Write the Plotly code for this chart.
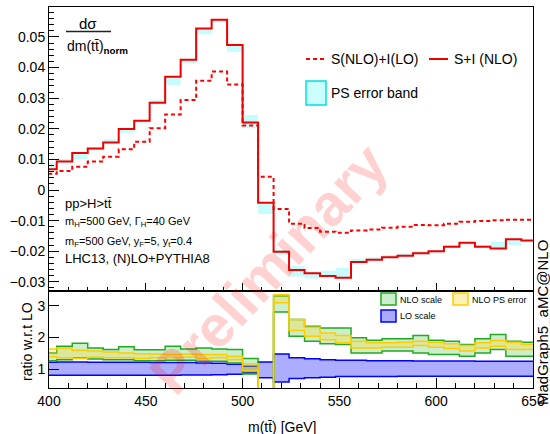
import plotly.graph_objects as go

# ---------------- data ----------------
mtt_centers = [400, 408, 416, 424, 432, 440, 448, 456, 464, 472, 480, 488, 496, 504, 512, 520,
               528, 536, 544, 552, 560, 568, 576, 584, 592, 600, 608, 616, 624, 632, 640, 648]
bin_width = 8

si_nlo = [0.0068, 0.0093, 0.0121, 0.0136, 0.0155, 0.0199, 0.0226, 0.0285, 0.0370, 0.0426, 0.0528,
          0.0556, 0.0474, 0.0221, -0.0042, -0.0202, -0.0261, -0.0272, -0.0281, -0.0287, -0.0235,
          -0.0228, -0.0220, -0.0215, -0.0207, -0.0200, -0.0185, -0.0172, -0.0185, -0.0191, -0.0161, -0.0165]

s_nlo_i_lo = [0.0053, 0.0062, 0.0076, 0.0093, 0.0109, 0.0133, 0.0158, 0.0202, 0.0247, 0.0294, 0.0357,
              0.0387, 0.0345, 0.0211, 0.0043, -0.0062, -0.0110, -0.0124, -0.0136, -0.0140, -0.0132,
              -0.0129, -0.0123, -0.0120, -0.0114, -0.0115, -0.0110, -0.0104, -0.0101, -0.0099, -0.0097, -0.0097]

ps_band_lo = [0.0068, 0.0093, 0.0100, 0.0130, 0.0155, 0.0187, 0.0218, 0.0285, 0.0343, 0.0414, 0.0509,
              0.0550, 0.0452, 0.0202, -0.0078, -0.0212, -0.0283, -0.0289, -0.0283, -0.0287, -0.0235,
              -0.0228, -0.0220, -0.0215, -0.0207, -0.0209, -0.0185, -0.0180, -0.0185, -0.0191, -0.0180, -0.0168]
ps_band_hi = [0.0088, 0.0101, 0.0121, 0.0136, 0.0166, 0.0199, 0.0226, 0.0294, 0.0370, 0.0426, 0.0528,
              0.0558, 0.0474, 0.0245, -0.0042, -0.0196, -0.0248, -0.0267, -0.0264, -0.0254, -0.0225,
              -0.0220, -0.0212, -0.0207, -0.0199, -0.0200, -0.0180, -0.0172, -0.0180, -0.0169, -0.0161, -0.0163]

# ratio panel (bin 512 lies far below the visible range)
nlo_scale_hi = [1.51, 1.72, 1.82, 1.67, 1.62, 1.71, 1.61, 1.61, 1.72, 1.64, 1.67, 1.64, 1.62, 1.34, -5.0,
                3.30, 2.56, 2.35, 2.30, 2.30, 1.99, 1.91, 1.96, 1.96, 2.06, 1.91, 1.88, 1.78, 1.96, 2.09, 1.88, 1.85]
nlo_scale_lo = [1.27, 1.30, 1.36, 1.32, 1.30, 1.30, 1.27, 1.27, 1.28, 1.28, 1.25, 1.25, 1.20, 0.85, -5.0,
                2.80, 2.04, 1.88, 1.80, 1.78, 1.51, 1.51, 1.57, 1.57, 1.51, 1.46, 1.46, 1.41, 1.51, 1.62, 1.41, 1.41]

nlo_ps_hi = [1.64, 1.67, 1.60, 1.57, 1.54, 1.51, 1.49, 1.48, 1.46, 1.48, 1.46, 1.46, 1.41, 1.17, -5.0,
             3.34, 2.56, 2.32, 2.14, 2.06, 1.88, 1.83, 1.83, 1.85, 1.88, 1.85, 1.80, 1.75, 1.83, 1.90, 1.85, 1.78]
nlo_ps_lo = [1.39, 1.36, 1.34, 1.38, 1.36, 1.36, 1.34, 1.36, 1.36, 1.38, 1.34, 1.36, 1.30, 0.96, -5.0,
             3.09, 2.22, 2.04, 1.93, 1.83, 1.67, 1.67, 1.69, 1.69, 1.75, 1.69, 1.65, 1.57, 1.67, 1.72, 1.62, 1.62]

lo_scale_hi = [1.22, 1.23, 1.23, 1.22, 1.22, 1.22, 1.22, 1.21, 1.21, 1.21, 1.20, 1.19, 1.16, 1.09, 1.23,
               1.48, 1.36, 1.33, 1.30, 1.28, 1.28, 1.27, 1.27, 1.27, 1.26, 1.26, 1.26, 1.26, 1.25, 1.25, 1.25, 1.25]
lo_scale_lo = [0.81, 0.81, 0.81, 0.81, 0.81, 0.81, 0.81, 0.81, 0.81, 0.82, 0.82, 0.83, 0.84, 0.88, 0.73,
               0.60, 0.71, 0.73, 0.75, 0.77, 0.77, 0.77, 0.77, 0.78, 0.78, 0.78, 0.78, 0.78, 0.78, 0.78, 0.78, 0.78]

# ---------------- helpers ----------------
FONT = "Liberation Sans, Arial, Helvetica, sans-serif"


def sx(c):
    return [v - bin_width / 2 for v in c] + [c[-1] + bin_width / 2]


def sy(v):
    return list(v) + [v[-1]]


L, R, T, B = 49, 533, 7, 388
W_PX, H_PX = R - L, B - T


def px(x):
    return (x - L) / W_PX


def py(y):
    return (B - y) / H_PX


split = (B - 291) / H_PX

fig = go.Figure()

# ---- top panel ----
fig.add_trace(go.Scatter(x=sx(mtt_centers), y=sy(ps_band_lo), mode="lines", line=dict(width=0, shape="hv"),
                         xaxis="x2", yaxis="y2", showlegend=False, hoverinfo="skip"))
fig.add_trace(go.Scatter(x=sx(mtt_centers), y=sy(ps_band_hi), mode="lines", line=dict(width=0, shape="hv"),
                         fill="tonexty", fillcolor="rgba(0,240,240,0.22)",
                         xaxis="x2", yaxis="y2", showlegend=False, hoverinfo="skip"))
fig.add_trace(go.Scatter(x=sx(mtt_centers), y=sy(s_nlo_i_lo), mode="lines",
                         line=dict(color="#ff0000", width=2, shape="hv", dash="4px,3px"),
                         xaxis="x2", yaxis="y2", showlegend=False))
fig.add_trace(go.Scatter(x=sx(mtt_centers), y=sy(si_nlo), mode="lines",
                         line=dict(color="#ee0000", width=2, shape="hv"),
                         xaxis="x2", yaxis="y2", showlegend=False))

# ---- ratio panel ----
def band(lo, hi, line_col, fill_col):
    fig.add_trace(go.Scatter(x=sx(mtt_centers), y=sy(lo), mode="lines",
                             line=dict(width=1.5, color=line_col, shape="hv"),
                             xaxis="x", yaxis="y", showlegend=False, hoverinfo="skip"))
    fig.add_trace(go.Scatter(x=sx(mtt_centers), y=sy(hi), mode="lines",
                             line=dict(width=1.5, color=line_col, shape="hv"),
                             fill="tonexty", fillcolor=fill_col,
                             xaxis="x", yaxis="y", showlegend=False, hoverinfo="skip"))


band(lo_scale_lo, lo_scale_hi, "#0000ff", "rgba(40,40,255,0.38)")
band(nlo_scale_lo, nlo_scale_hi, "#22aa22", "rgba(0,170,0,0.2)")
band(nlo_ps_lo, nlo_ps_hi, "#ffcc00", "rgba(255,215,40,0.3)")

axis_common = dict(showgrid=False, zeroline=False, showline=True, linecolor="black", linewidth=1,
                   mirror=True, ticks="inside", tickcolor="black",
                   tickfont=dict(family=FONT, size=14, color="black"))

fig.update_layout(
    width=550, height=434,
    margin=dict(l=L, r=550 - R, t=T, b=434 - B, pad=0),
    paper_bgcolor="white", plot_bgcolor="white",
    template="none",
    showlegend=False,
    xaxis=dict(axis_common, domain=[0, 1], range=[400, 650], anchor="y", tick0=400, dtick=50,
               ticklen=10, minor=dict(dtick=10, ticklen=5, ticks="inside", tickcolor="black")),
    xaxis2=dict(axis_common, domain=[0, 1], range=[400, 650], anchor="y2", matches="x", tick0=400, dtick=50,
                ticklen=8, showticklabels=False,
                minor=dict(dtick=10, ticklen=4, ticks="inside", tickcolor="black")),
    yaxis=dict(axis_common, domain=[0, split], range=[0.41, 3.46], anchor="x", tickvals=[1, 2, 3],
               ticklen=10),
    yaxis2=dict(axis_common, domain=[split, 1], range=[-0.033, 0.0598], anchor="x2", tick0=0, dtick=0.01,
                ticklen=10, minor=dict(dtick=0.002, ticklen=5, ticks="inside", tickcolor="black")),
)

shapes = []
annotations = []


def text(x, y, s, size, anchor="left", angle=0, color="black"):
    annotations.append(dict(xref="paper", yref="paper", x=px(x), y=py(y), text=s, showarrow=False,
                            xanchor=anchor, yanchor="middle", textangle=angle,
                            font=dict(family=FONT, size=size, color=color)))


# watermark (drawn first, so it sits under the other texts)
annotations.append(dict(xref="paper", yref="paper", x=px(268), y=py(268), text="<b>Preliminary</b>",
                        showarrow=False, xanchor="center", yanchor="middle", textangle=-47,
                        font=dict(family=FONT, size=58, color="rgba(255,0,0,0.18)")))

# y-title fraction
text(88, 23, "dσ", 15, anchor="center")
shapes.append(dict(type="line", xref="paper", yref="paper", x0=px(66), x1=px(111), y0=py(31.5), y1=py(31.5),
                   line=dict(color="#222", width=1.5)))
text(65, 47, "dm(tt\u0304)<sub><b>norm</b></sub>", 14)

# process info
text(63, 203, "pp>H>tt\u0304", 13)
text(63, 222, "m<sub>H</sub>=500 GeV, Γ<sub>H</sub>=40 GeV", 11)
text(63, 242, "m<sub>F</sub>=500 GeV, y<sub>F</sub>=5, y<sub>t</sub>=0.4", 11)
text(63, 258, "LHC13, (N)LO+PYTHIA8", 13)

# top legend
shapes.append(dict(type="line", xref="paper", yref="paper", x0=px(306), x1=px(324), y0=py(59), y1=py(59),
                   line=dict(color="#ff0000", width=2, dash="4px,3px")))
text(329, 59, "S(NLO)+I(LO)", 14)
shapes.append(dict(type="line", xref="paper", yref="paper", x0=px(429), x1=px(448), y0=py(59), y1=py(59),
                   line=dict(color="#ee0000", width=2)))
text(452, 59, "S+I (NLO)", 14)
shapes.append(dict(type="rect", xref="paper", yref="paper", x0=px(306), x1=px(326), y0=py(105), y1=py(81),
                   line=dict(color="#00e0e0", width=1.5), fillcolor="#ccffff"))
text(329, 93, "PS error band", 14)

# ratio legend
shapes.append(dict(type="rect", xref="paper", yref="paper", x0=px(381), x1=px(396), y0=py(305), y1=py(293),
                   line=dict(color="#22aa22", width=1.5), fillcolor="#cceecc"))
text(398, 300, "NLO scale", 9)
shapes.append(dict(type="rect", xref="paper", yref="paper", x0=px(453), x1=px(468), y0=py(305), y1=py(293),
                   line=dict(color="#ffcc00", width=1.5), fillcolor="#fff0b3"))
text(470, 300, "NLO PS error", 9)
shapes.append(dict(type="rect", xref="paper", yref="paper", x0=px(381), x1=px(396), y0=py(322), y1=py(310),
                   line=dict(color="#0000ff", width=1.5), fillcolor="#aaaaff"))
text(398, 316, "LO scale", 9)

# axis titles
text(27, 342, "ratio w.r.t LO", 14, anchor="center", angle=-90)
text(318, 427, "m(tt\u0304) [GeV]", 14, anchor="right")
text(542, 323, "MadGraph5_aMC@NLO", 15, anchor="center", angle=-90)

fig.update_layout(shapes=shapes, annotations=annotations)

fig.write_html("out.html", config={"displayModeBar": False},
               post_script="document.body.style.margin='0';document.body.style.padding='0';")
